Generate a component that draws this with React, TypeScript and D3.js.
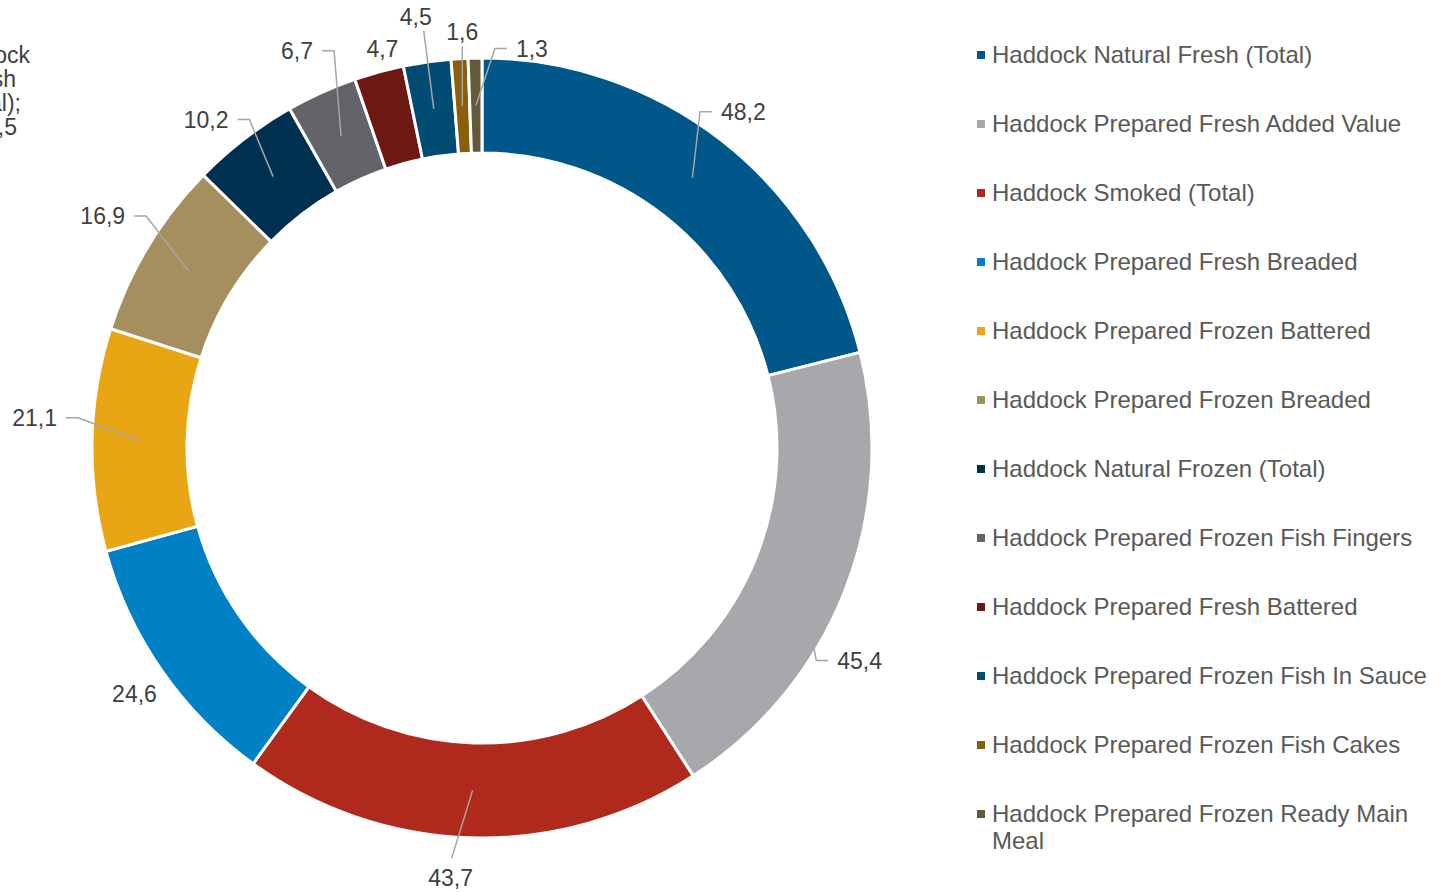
import React from 'react';
import * as d3 from 'd3';

const categories = [
  'Haddock Natural Fresh (Total)',
  'Haddock Prepared Fresh Added Value',
  'Haddock Smoked (Total)',
  'Haddock Prepared Fresh Breaded',
  'Haddock Prepared Frozen Battered',
  'Haddock Prepared Frozen Breaded',
  'Haddock Natural Frozen (Total)',
  'Haddock Prepared Frozen Fish Fingers',
  'Haddock Prepared Fresh Battered',
  'Haddock Prepared Frozen Fish In Sauce',
  'Haddock Prepared Frozen Fish Cakes',
  'Haddock Prepared Frozen Ready Main Meal',
];

const values = [48.2, 45.4, 43.7, 24.6, 21.1, 16.9, 10.2, 6.7, 4.7, 4.5, 1.6, 1.3];

const colors = [
  '#00578A', '#A7A8AC', '#B0291D', '#0080C5', '#E8A615', '#A68F5E',
  '#00304F', '#636469', '#6B1912', '#004C73', '#8B5F0A', '#625A3B',
];

// stray clipped label at the left edge of the original
const strayLabel = ['Haddock', 'Fresh', '(Total);', '48,5'];

// label placement relative to slice centroid, and where the leader attaches
const labelOffsets: [number, number][] = [
  [51, -66], [59, 87], [-22, 88], [-66, 51], [-105, -23], [-86, -55],
  [-67, -57], [-44, -85], [-9, -69], [-18, -92], [0, -74], [56, -57],
];
const leaderKinds = ['L', 'L', 'T', null, 'R', 'R', 'R', 'R', null, 'B', 'B', 'L'];

const W = 1447;
const H = 892;
const cx = 482;
const cy = 448;
const outerR = 390;
const innerR = 295;
const labelSize = 23;
const legendSize = 24;
const font = '"Liberation Sans", Arial, sans-serif';

const fmt = (v: number) => v.toFixed(1).replace('.', ',');
const textW = (s: string, size: number) =>
  s.split('').reduce((a, c) => a + (c === ',' ? 0.278 : 0.556), 0) * size;

const App = () => {
  const pie = d3.pie<number>().sort(null).value(d => d);
  const arcs = pie(values);
  const arc = d3.arc<d3.PieArcDatum<number>>().innerRadius(innerR).outerRadius(outerR);
  const mid = d3.arc<d3.PieArcDatum<number>>()
    .innerRadius((innerR + outerR) / 2)
    .outerRadius((innerR + outerR) / 2);

  const legendY = d3.scaleLinear().domain([0, 1]).range([55, 124]);

  return (
    <div style={{ position: 'absolute', left: 0, top: 0, width: W, height: H, overflow: 'hidden' }}>
      <svg width={W} height={H} style={{ display: 'block', fontFamily: font }}>
        <g transform={`translate(${cx},${cy})`}>
          {arcs.map((a, i) => (
            <path key={i} d={arc(a) || ''} fill={colors[i]} stroke="#fff" strokeWidth={3} />
          ))}
        </g>

        {arcs.map((a, i) => {
          const [mx, my] = mid.centroid(a);
          const px = cx + mx;
          const py = cy + my;
          const lx = px + labelOffsets[i][0];
          const ly = py + labelOffsets[i][1];
          const txt = fmt(values[i]);
          const w = textW(txt, labelSize);
          const kind = leaderKinds[i];
          let pts: [number, number][] | null = null;
          if (kind === 'L') pts = [[lx - w / 2 - 9, ly], [lx - w / 2 - 21, ly], [px, py]];
          if (kind === 'R') pts = [[lx + w / 2 + 9, ly], [lx + w / 2 + 21, ly], [px, py]];
          if (kind === 'B') {
            const sx = Math.max(lx - w / 2 + 8, Math.min(lx + w / 2 - 8, px));
            pts = [[sx, ly + 14], [px, py]];
          }
          if (kind === 'T') pts = [[lx + 1, ly - 20], [px, py]];
          return (
            <g key={'l' + i}>
              {pts && (
                <path d={d3.line()(pts) || ''} fill="none" stroke="#A6A6A6" strokeWidth={1.5} />
              )}
              <text x={lx} y={ly + 8} textAnchor="middle" fontSize={labelSize} fill="#404040">
                {txt}
              </text>
            </g>
          );
        })}

        <g fill="#404040" fontSize={labelSize} textAnchor="end">
          {strayLabel.map((s, i) => (
            <text key={s} x={[30, 16, 21, 17][i]} y={63 + i * 24}>{s}</text>
          ))}
        </g>

        <g>
          {categories.map((c, i) => {
            const y = legendY(i);
            const lines = i === categories.length - 1
              ? ['Haddock Prepared Frozen Ready Main', 'Meal']
              : [c];
            return (
              <g key={c}>
                <rect x={977} y={y - 4} width={8} height={8} fill={colors[i]} />
                <text x={992} y={y + 8} fontSize={legendSize} fill="#595959">
                  {lines.map((ln, j) => (
                    <tspan key={j} x={992} dy={j === 0 ? 0 : 27}>{ln}</tspan>
                  ))}
                </text>
              </g>
            );
          })}
        </g>
      </svg>
    </div>
  );
};

export default App;
